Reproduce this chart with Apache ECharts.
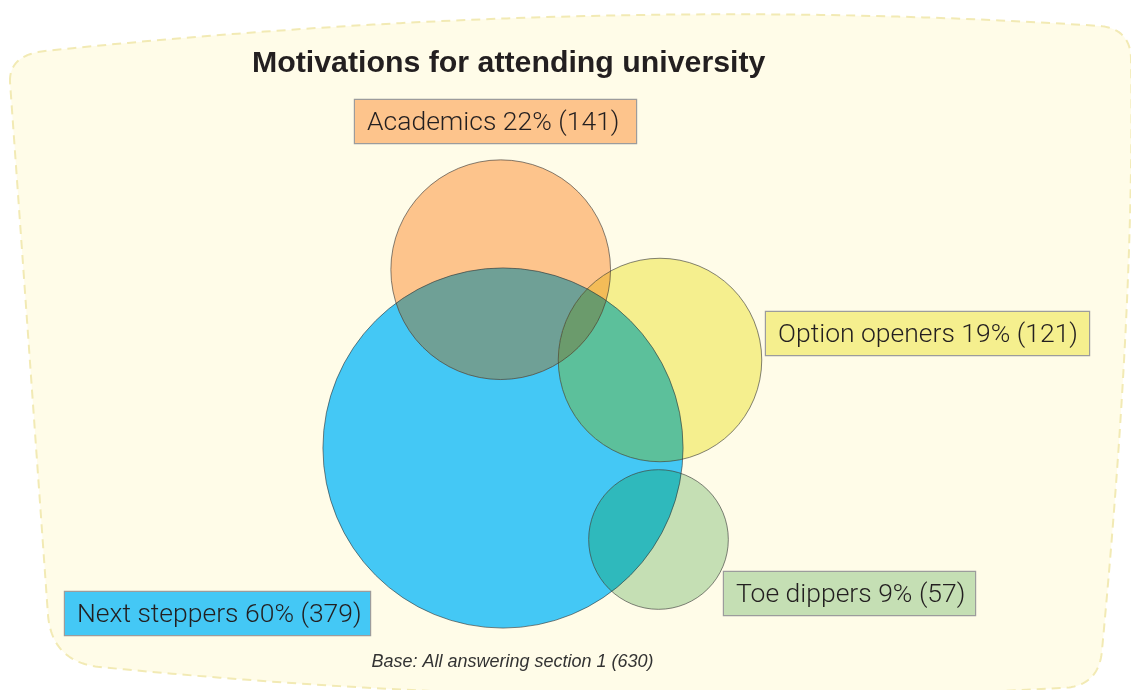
<!DOCTYPE html>
<html>
<head>
<meta charset="utf-8">
<script src="https://cdn.jsdelivr.net/npm/echarts@6/dist/echarts.min.js"></script>
<style>
  html, body { margin: 0; padding: 0; background: #ffffff; }
  #chart { width: 1131px; height: 690px; }
</style>
</head>
<body>
<div id="chart"></div>
<script>
// ---- Survey data -------------------------------------------------------
const chartTitle = 'Motivations for attending university';
const groupNames = ['Next steppers', 'Academics', 'Option openers', 'Toe dippers'];
const groupShares = [60, 22, 19, 9];          // % of respondents
const groupCounts = [379, 141, 121, 57];      // respondents
const baseCount = 630;

// ---- Layout (axis units = pixels on the full-canvas grid) --------------
const circleCenters = [[503, 448], [500.7, 269.7], [660, 360], [658.5, 539.5]];
const radiusPerSqrtCount = 9.25;              // circle area proportional to count
const labelBoxes = [[65, 592, 305], [355, 100, 281], [766, 312, 323], [724, 572, 251]]; // left, top, width
const groupColors = ['#44C8F5', '#FDC48C', '#F5EF8E', '#C5DFB4'];
// shades used where circles overlap (keyed by the overlapping circle indices)
const overlapColors = {
  '0,1': '#6FA096',
  '0,2': '#5CC09B',
  '0,3': '#2FB9BC',
  '1,2': '#F3BC58',
  '0,1,2': '#6B9B6C'
};

// Rounded backdrop panel, described as quadratic segments and sampled to a polygon
function panelPoints() {
  const segs = [
    [[10, 82], [9, 55], [45, 51]],
    [[45, 51], [600, -6.5], [1100, 26]],
    [[1100, 26], [1131, 29], [1131, 60]],
    [[1131, 60], [1135, 300], [1102, 650]],
    [[1102, 650], [1099, 688], [1060, 688]],
    [[1060, 688], [580, 714.5], [100, 667]],
    [[100, 667], [52, 662], [48, 615]],
    [[48, 615], [29, 348], [10, 82]]
  ];
  const pts = [];
  segs.forEach(function (s) {
    const n = 40;
    for (let k = 0; k < n; k++) {
      const t = k / n, u = 1 - t;
      pts.push([
        u * u * s[0][0] + 2 * u * t * s[1][0] + t * t * s[2][0],
        u * u * s[0][1] + 2 * u * t * s[1][1] + t * t * s[2][1]
      ]);
    }
  });
  return pts;
}

const circleData = groupCounts.map(function (c, i) {
  return [circleCenters[i][0], circleCenters[i][1], radiusPerSqrtCount * Math.sqrt(c)];
});

// ---- Venn geometry helpers ----------------------------------------------
function pixelCircle(api, d) {
  const c = api.coord([d[0], d[1]]);
  return { x: c[0], y: c[1], r: api.size([d[2], 0])[0] };
}

function insideCircle(p, c) {
  const dx = p[0] - c.x, dy = p[1] - c.y;
  return dx * dx + dy * dy <= (c.r + 0.01) * (c.r + 0.01);
}

function circleCrossings(a, b) {
  const dx = b.x - a.x, dy = b.y - a.y;
  const d = Math.sqrt(dx * dx + dy * dy);
  if (d === 0 || d > a.r + b.r || d < Math.abs(a.r - b.r)) return [];
  const l = (a.r * a.r - b.r * b.r + d * d) / (2 * d);
  const h = Math.sqrt(Math.max(0, a.r * a.r - l * l));
  const mx = a.x + l * dx / d, my = a.y + l * dy / d;
  return [[mx + h * dy / d, my - h * dx / d], [mx - h * dy / d, my + h * dx / d]];
}

// Convex region shared by all given circles, as an ordered point list
function intersectionPolygon(cs) {
  const pts = [];
  const steps = 1440;
  cs.forEach(function (c, k) {
    const others = cs.filter(function (_, m) { return m !== k; });
    for (let s = 0; s < steps; s++) {
      const ang = s / steps * Math.PI * 2;
      const p = [c.x + c.r * Math.cos(ang), c.y + c.r * Math.sin(ang)];
      if (others.every(function (o) { return insideCircle(p, o); })) pts.push(p);
    }
  });
  for (let a = 0; a < cs.length; a++) {
    for (let b = a + 1; b < cs.length; b++) {
      circleCrossings(cs[a], cs[b]).forEach(function (p) {
        if (cs.every(function (o) { return insideCircle(p, o); })) pts.push(p);
      });
    }
  }
  if (pts.length < 3) return null;
  let cx = 0, cy = 0;
  pts.forEach(function (p) { cx += p[0]; cy += p[1]; });
  cx /= pts.length; cy /= pts.length;
  pts.sort(function (p, q) {
    return Math.atan2(p[1] - cy, p[0] - cx) - Math.atan2(q[1] - cy, q[0] - cx);
  });
  return pts;
}

// Fallback overlap colour: the fills multiplied together
function multiplyColors(list) {
  let rgb = [255, 255, 255];
  list.forEach(function (hex) {
    const v = parseInt(hex.slice(1), 16);
    const c = [(v >> 16) & 255, (v >> 8) & 255, v & 255];
    rgb = rgb.map(function (x, k) { return x * c[k] / 255; });
  });
  return 'rgb(' + rgb.map(function (x) { return Math.round(x); }).join(',') + ')';
}

function overlapColor(members) {
  const key = members.slice().sort(function (a, b) { return a - b; }).join(',');
  return overlapColors[key] || multiplyColors(members.map(function (m) { return groupColors[m]; }));
}

const labelGraphics = groupNames.map(function (name, i) {
  const b = labelBoxes[i];
  return {
    type: 'text',
    zlevel: 2,
    z: 10,
    silent: true,
    style: {
      text: name + ' ' + groupShares[i] + '% (' + groupCounts[i] + ')',
      x: b[0],
      y: b[1],
      align: 'left',
      verticalAlign: 'top',
      fontFamily: 'Roboto',
      fontWeight: 300,
      fontSize: 26.5,
      fill: '#231F20',
      backgroundColor: groupColors[i],
      borderColor: '#9C9C9C',
      borderWidth: 1.2,
      padding: [3, 0, 0, 12],
      lineHeight: 40,
      width: b[2] - 12
    }
  };
});

const chart = echarts.init(document.getElementById('chart'), null, { renderer: 'canvas' });

chart.setOption({
  animation: false,
  backgroundColor: '#ffffff',
  grid: { left: 0, right: 0, top: 0, bottom: 0 },
  xAxis: { type: 'value', min: 0, max: 1131, show: false },
  yAxis: { type: 'value', min: 0, max: 690, inverse: true, show: false },
  graphic: [
    {
      type: 'polygon',
      z: -10,
      silent: true,
      shape: { points: panelPoints() },
      style: {
        fill: '#FFFCE8',
        stroke: '#F2EAB4',
        lineWidth: 2,
        lineDash: [9, 6]
      }
    },
    {
      type: 'text',
      zlevel: 2,
      silent: true,
      style: {
        text: chartTitle,
        x: 252,
        y: 64,
        align: 'left',
        verticalAlign: 'middle',
        fontFamily: 'Liberation Sans',
        fontWeight: 'bold',
        fontSize: 30.3,
        fill: '#231F20'
      }
    },
    {
      type: 'text',
      zlevel: 2,
      silent: true,
      style: {
        text: 'Base: All answering section 1 (' + baseCount + ')',
        x: 512.5,
        y: 662,
        align: 'center',
        verticalAlign: 'middle',
        fontFamily: 'Liberation Sans',
        fontStyle: 'italic',
        fontSize: 18,
        fill: '#333333'
      }
    }
  ].concat(labelGraphics),
  series: [
    {
      // filled circles plus every overlap region they form with earlier circles
      type: 'custom',
      coordinateSystem: 'cartesian2d',
      zlevel: 1,
      z: 2,
      silent: true,
      data: circleData,
      renderItem: function (params, api) {
        const i = params.dataIndex;
        const circles = circleData.map(function (d) { return pixelCircle(api, d); });
        const me = circles[i];
        const children = [{
          type: 'circle',
          shape: { cx: me.x, cy: me.y, r: me.r },
          style: { fill: groupColors[i] }
        }];
        const subsets = [];
        for (let mask = 1; mask < (1 << i); mask++) {
          const idx = [];
          for (let j = 0; j < i; j++) if (mask & (1 << j)) idx.push(j);
          subsets.push(idx);
        }
        subsets.sort(function (a, b) { return a.length - b.length; });
        subsets.forEach(function (idx) {
          const members = idx.concat([i]);
          const poly = intersectionPolygon(members.map(function (m) { return circles[m]; }));
          if (poly) {
            children.push({
              type: 'polygon',
              shape: { points: poly },
              style: { fill: overlapColor(members) }
            });
          }
        });
        return { type: 'group', children: children };
      }
    },
    {
      // circle outlines on top of all fills
      type: 'custom',
      coordinateSystem: 'cartesian2d',
      zlevel: 1,
      z: 5,
      silent: true,
      data: circleData,
      renderItem: function (params, api) {
        const c = pixelCircle(api, [api.value(0), api.value(1), api.value(2)]);
        return {
          type: 'circle',
          shape: { cx: c.x, cy: c.y, r: c.r },
          style: { fill: 'none', stroke: 'rgba(50,50,50,0.6)', lineWidth: 1 }
        };
      }
    }
  ]
});
</script>
</body>
</html>
